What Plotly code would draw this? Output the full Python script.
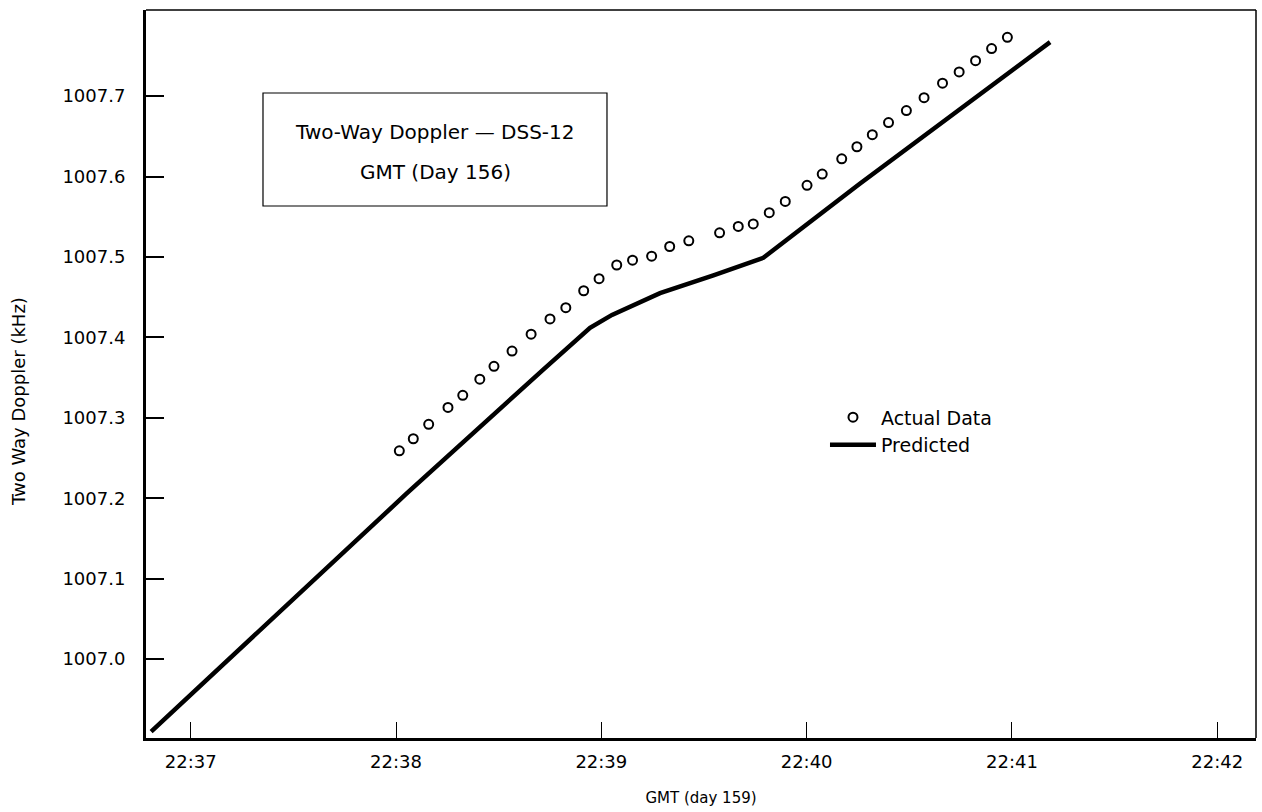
import plotly.graph_objects as go

# ---- data (minutes after 22:00 GMT, kHz) ----
actual_minutes = [38.016, 38.084, 38.159, 38.253, 38.325, 38.408, 38.477, 38.565, 38.658,
                  38.750, 38.827, 38.914, 38.989, 39.075, 39.152, 39.245, 39.333, 39.426,
                  39.576, 39.667, 39.740, 39.818, 39.896, 40.002, 40.076, 40.171, 40.245,
                  40.320, 40.399, 40.486, 40.572, 40.662, 40.743, 40.823, 40.901, 40.978]
actual_khz = [1007.259, 1007.274, 1007.292, 1007.313, 1007.328, 1007.348, 1007.364, 1007.383,
              1007.404, 1007.423, 1007.437, 1007.458, 1007.473, 1007.490, 1007.496, 1007.501,
              1007.513, 1007.520, 1007.530, 1007.538, 1007.541, 1007.555, 1007.569, 1007.589,
              1007.603, 1007.622, 1007.637, 1007.652, 1007.667, 1007.682, 1007.698, 1007.716,
              1007.730, 1007.744, 1007.759, 1007.773]

pred_minutes = [36.807, 38.052, 38.717, 38.945, 39.052, 39.286, 39.546, 39.789, 40.259, 41.186]
pred_khz = [1006.910, 1007.206, 1007.360, 1007.412, 1007.428, 1007.455, 1007.477, 1007.499,
            1007.591, 1007.767]

x_tick_vals = [37, 38, 39, 40, 41, 42]
x_tick_labels = ["22:37", "22:38", "22:39", "22:40", "22:41", "22:42"]
y_tick_vals = [1007.0, 1007.1, 1007.2, 1007.3, 1007.4, 1007.5, 1007.6, 1007.7]
y_tick_labels = ["1007.0", "1007.1", "1007.2", "1007.3", "1007.4", "1007.5", "1007.6", "1007.7"]

x_range = [36.782, 42.189]
y_range = [1006.902, 1007.807]

FONT = "DejaVu Sans"

fig = go.Figure()
fig.add_trace(go.Scatter(
    x=pred_minutes, y=pred_khz, mode="lines", name="Predicted",
    line=dict(color="black", width=4.5), legendrank=2,
))
fig.add_trace(go.Scatter(
    x=actual_minutes, y=actual_khz, mode="markers", name="Actual Data",
    marker=dict(symbol="circle-open", size=9, color="black", line=dict(width=2, color="black")),
    legendrank=1,
))

fig.update_layout(
    width=1262, height=812,
    margin=dict(l=146, r=6, t=10, b=74),
    paper_bgcolor="white", plot_bgcolor="white",
    font=dict(family=FONT, color="black", size=17),
    showlegend=True,
    legend=dict(x=0.6117, y=0.4666, xanchor="left", yanchor="top",
                bgcolor="rgba(0,0,0,0)", borderwidth=0,
                font=dict(family=FONT, size=19, color="black"), itemwidth=46),
    xaxis=dict(range=x_range, tickvals=x_tick_vals, ticktext=x_tick_labels,
               showgrid=False, zeroline=False, ticks="inside", ticklen=16, tickwidth=1.2,
               tickcolor="black", showline=True, linewidth=3, linecolor="black",
               tickfont=dict(family=FONT, size=18), ticklabelstandoff=5,
               title=dict(text="GMT (day 159)", font=dict(family=FONT, size=15), standoff=22)),
    yaxis=dict(range=y_range, tickvals=y_tick_vals, ticktext=y_tick_labels,
               showgrid=False, zeroline=False, ticks="inside", ticklen=18, tickwidth=1.5,
               tickcolor="black", showline=True, linewidth=3, linecolor="black",
               tickfont=dict(family=FONT, size=18), ticklabelstandoff=14),
)

# y-axis title (placed slightly below the plot centre, as in the original)
fig.add_annotation(xref="paper", yref="paper", x=-0.1153, y=0.4615, showarrow=False,
                   xanchor="center", yanchor="middle", textangle=-90,
                   text="Two Way Doppler (kHz)", font=dict(family=FONT, size=18))

# top and right frame lines (thin)
fig.add_shape(type="line", xref="paper", yref="paper", x0=0, x1=1, y0=1, y1=1,
              line=dict(color="black", width=1.5))
fig.add_shape(type="line", xref="paper", yref="paper", x0=1, x1=1, y0=0, y1=1,
              line=dict(color="black", width=1.5))

# caption box
fig.add_shape(type="rect", xref="paper", yref="paper", x0=0.1054, x1=0.4153, y0=0.7308, y1=0.886,
              line=dict(color="black", width=1.2), fillcolor="rgba(0,0,0,0)")
fig.add_annotation(xref="paper", yref="paper", x=0.2604, y=0.8324, showarrow=False,
                   xanchor="center", yanchor="middle",
                   text="Two-Way Doppler — DSS-12", font=dict(family=FONT, size=20))
fig.add_annotation(xref="paper", yref="paper", x=0.2604, y=0.7775, showarrow=False,
                   xanchor="center", yanchor="middle",
                   text="GMT (Day 156)", font=dict(family=FONT, size=20))

fig.write_html("out.html", config={"displayModeBar": False})

# remove the default 8px page margin so the figure sits at the window origin
with open("out.html", "r", encoding="utf-8") as f:
    html = f.read()
html = html.replace("<head>", "<head><style>html,body{margin:0;padding:0;overflow:hidden;}</style>", 1)
with open("out.html", "w", encoding="utf-8") as f:
    f.write(html)
